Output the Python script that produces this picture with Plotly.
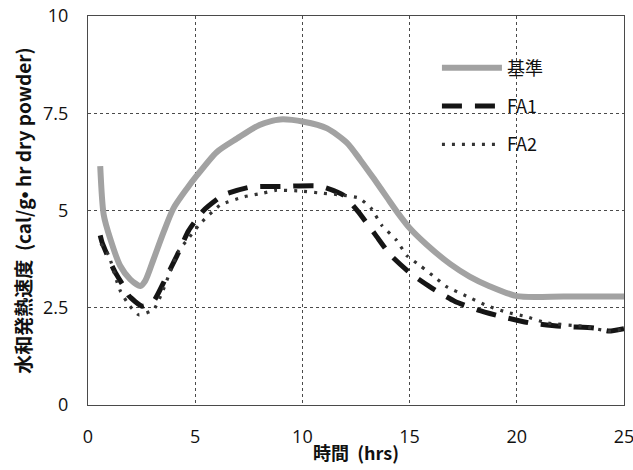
import plotly.graph_objects as go

# Data
base_x = [0.57, 0.73, 1.04, 1.5, 1.97, 2.44, 2.67, 3.06, 3.53, 3.99, 4.61, 5.08, 6.0, 6.95, 8.0, 8.96, 10.06, 11.15, 12.08, 12.7, 13.33, 13.95, 14.5, 15.0, 15.8, 16.9, 17.8, 18.7, 20.0, 22.2, 25.0]
base_y = [6.14, 4.9, 4.27, 3.58, 3.23, 3.06, 3.19, 3.75, 4.45, 5.06, 5.56, 5.9, 6.5, 6.85, 7.2, 7.34, 7.28, 7.11, 6.74, 6.3, 5.82, 5.33, 4.9, 4.55, 4.12, 3.62, 3.3, 3.06, 2.8, 2.79, 2.79]

fa1_x = [0.57, 0.65, 1.04, 1.27, 1.74, 1.9, 2.52, 3.06, 3.6, 4.15, 4.69, 5.39, 6.32, 7.56, 9.1, 10.8, 11.9, 12.6, 13.4, 14.1, 15.05, 15.97, 17.1, 18.2, 19.3, 20.6, 22.1, 23.6, 24.3, 25.0]
fa1_y = [4.36, 4.19, 3.67, 3.41, 2.98, 2.81, 2.54, 2.67, 3.23, 3.84, 4.48, 5.0, 5.4, 5.6, 5.62, 5.63, 5.4, 4.97, 4.38, 3.86, 3.38, 3.03, 2.67, 2.44, 2.27, 2.11, 2.02, 1.98, 1.9, 1.96]

fa2_x = [0.6, 0.97, 1.36, 1.51, 1.9, 2.36, 3.06, 3.45, 3.84, 4.23, 4.61, 5.23, 6.17, 7.26, 8.19, 8.79, 9.9, 10.99, 11.8, 12.64, 13.2, 13.7, 14.4, 14.87, 15.5, 16.3, 16.7, 17.65, 18.58, 19.5, 20.45, 21.4, 23.1, 24.3, 25.0]
fa2_y = [4.15, 3.84, 3.15, 2.93, 2.58, 2.32, 2.45, 2.88, 3.44, 3.97, 4.23, 4.66, 5.14, 5.35, 5.45, 5.52, 5.5, 5.44, 5.4, 5.32, 5.06, 4.62, 4.23, 3.84, 3.58, 3.23, 3.05, 2.8, 2.56, 2.39, 2.27, 2.11, 2.02, 1.9, 1.95]

names = ["基準", "FA1", "FA2"]
x_ticks = [0, 5, 10, 15, 20, 25]
y_ticks = [0, 2.5, 5, 7.5, 10]
y_tick_text = ["0", "2.5", "5", "7.5", "10"]

fig = go.Figure()
fig.add_trace(go.Scatter(x=base_x, y=base_y, name=names[0], mode="lines", legendgroup="a",
                         line=dict(color="#a2a2a2", width=6, shape="spline", smoothing=0.7)))
fig.add_trace(go.Scatter(x=fa1_x, y=fa1_y, name=names[1], mode="lines", legendgroup="b",
                         line=dict(color="#151515", width=5, dash="20px,13px", shape="spline", smoothing=0.5)))
fig.add_trace(go.Scatter(x=fa2_x, y=fa2_y, name=names[2], mode="lines", legendgroup="c",
                         line=dict(color="#333333", width=3.2, dash="3px,7px", shape="spline", smoothing=0.5)))

# white backdrop for the legend area (covers grid lines like the original)
fig.add_shape(type="rect", xref="paper", yref="paper", x0=0.582, x1=0.933, y0=0.625, y1=0.907,
              fillcolor="white", line=dict(width=0), layer="between")

cjk = "Noto Sans CJK JP, sans-serif"
tickfont = dict(family="Open Sans, Liberation Sans, sans-serif", size=18, color="#111")
fig.update_layout(
    width=633, height=470,
    margin=dict(l=88, r=9, t=16, b=65),
    paper_bgcolor="white", plot_bgcolor="white",
    showlegend=True,
    legend=dict(x=0.651, y=0.914, xanchor="left", yanchor="top",
                bgcolor="rgba(0,0,0,0)", font=dict(family=cjk, size=18, color="#111"),
                tracegroupgap=12, itemwidth=60),
    xaxis=dict(range=[0, 25], tickvals=x_ticks, ticks="", showgrid=True, gridcolor="#4a4a4a", gridwidth=1,
               griddash="dot", zeroline=False, showline=True, linecolor="#4a4a4a", mirror=True, linewidth=1,
               tickfont=tickfont, ticklabelstandoff=15, automargin=False, ticklabeloverflow="allow",
               title=dict(text="<b>時間  (hrs)</b>", font=dict(family=cjk, size=18, color="#111"), standoff=0)),
    yaxis=dict(range=[0, 10], tickvals=y_ticks, ticktext=y_tick_text, ticks="", showgrid=True, gridcolor="#4a4a4a",
               gridwidth=1, griddash="dot", zeroline=False, showline=True, linecolor="#4a4a4a", mirror=True, linewidth=1,
               tickfont=tickfont, ticklabelstandoff=15, automargin=False,
               title=dict(text="<b>水和発熱速度  (cal/g• hr dry powder)</b>", font=dict(family=cjk, size=19, color="#111"), standoff=6)),
)

fig.write_html("out.html", config={"displayModeBar": False},
               post_script="document.body.style.margin='0';")
